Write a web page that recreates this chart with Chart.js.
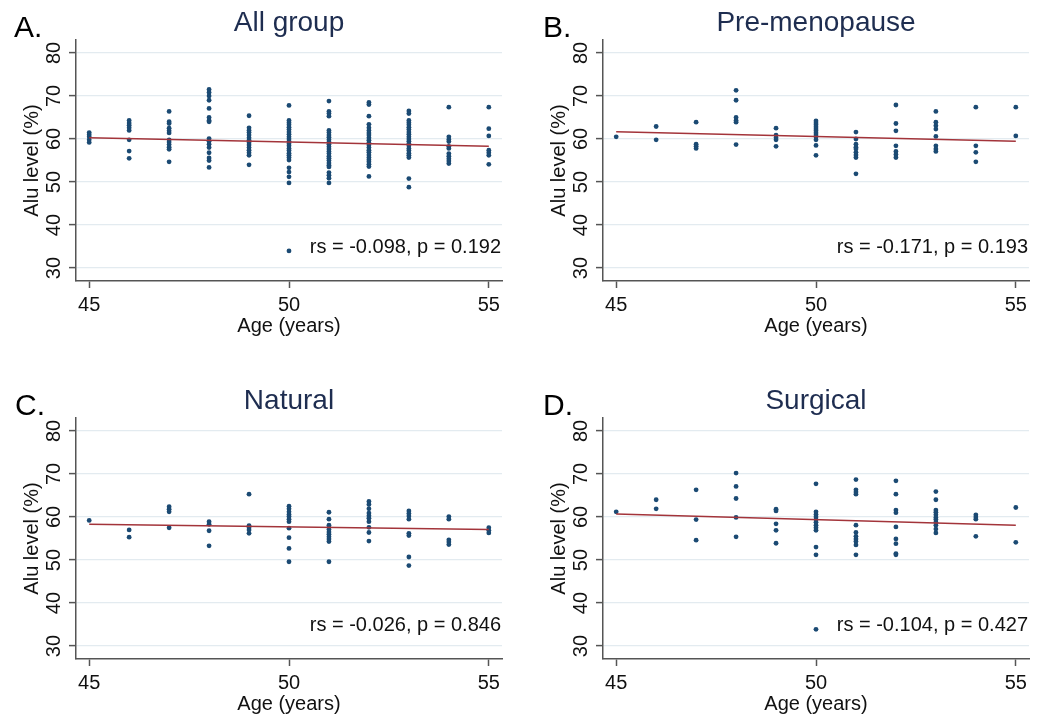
<!DOCTYPE html>
<html>
<head>
<meta charset="utf-8">
<script src="https://cdn.jsdelivr.net/npm/chart.js@4.4.0/dist/chart.umd.min.js"></script>
<style>
  body { margin: 0; background: #fff; }
  .panel { position: absolute; width: 516px; height: 340px; }
</style>
</head>
<body>
<div class="panel" style="left:0;top:0"><canvas id="chartA"></canvas></div>
<div class="panel" style="left:527px;top:0"><canvas id="chartB"></canvas></div>
<div class="panel" style="left:0;top:378px"><canvas id="chartC"></canvas></div>
<div class="panel" style="left:527px;top:378px"><canvas id="chartD"></canvas></div>
<script>
// ages on the x axis, one list of Alu values per age
const ages = [45, 46, 47, 48, 49, 50, 51, 52, 53, 54, 55];

const aluAllGroup = [
    [61.5, 61.0, 60.5, 59.8, 59.2],
    [64.3, 63.7, 63.2, 62.6, 62.0, 59.8, 57.2, 55.5],
    [66.4, 64.0, 63.6, 62.5, 61.9, 61.4, 59.8, 59.3, 58.7, 58.1, 57.6, 54.7],
    [71.5, 70.8, 70.0, 69.0, 67.1, 65.0, 64.3, 64.0, 60.1, 59.5, 58.8, 58.0, 56.8, 55.6, 55.0, 53.4],
    [65.4, 62.6, 62.0, 61.5, 60.9, 60.3, 59.7, 59.1, 58.6, 58.0, 57.4, 56.8, 56.2, 54.0],
    [67.8, 64.3, 63.8, 63.3, 62.7, 62.2, 61.6, 61.1, 60.5, 60.0, 59.5, 58.9, 58.4, 57.8, 57.3, 56.7, 56.2, 55.7, 55.1, 53.3, 52.3, 51.2, 49.8, 34.0],
    [68.8, 66.4, 65.9, 65.3, 62.0, 61.5, 60.9, 60.4, 59.8, 59.3, 58.8, 58.2, 57.7, 57.1, 56.6, 56.0, 55.5, 55.0, 54.4, 53.9, 53.5, 52.2, 51.6, 50.9, 49.8],
    [68.5, 68.0, 65.3, 63.4, 62.6, 62.0, 61.4, 60.9, 60.3, 59.7, 59.1, 58.6, 58.0, 57.4, 56.9, 56.3, 55.7, 55.2, 54.7, 54.1, 53.6, 51.3],
    [66.5, 65.9, 64.3, 63.8, 63.3, 62.7, 62.2, 61.6, 61.1, 60.5, 60.0, 59.5, 58.9, 58.4, 57.8, 57.3, 56.7, 56.2, 55.7, 50.8, 48.8],
    [67.4, 60.5, 59.9, 59.4, 58.3, 57.8, 56.6, 56.0, 55.4, 54.9, 54.3],
    [67.4, 62.4, 60.7, 57.4, 56.8, 56.2, 54.1]
];
const aluPreMenopause = [
    [60.5],
    [62.9, 59.8],
    [63.9, 58.8, 58.3, 57.8],
    [71.3, 69.0, 65.0, 64.3, 63.9, 58.7],
    [62.5, 60.9, 60.3, 59.8, 58.3],
    [64.2, 63.7, 63.3, 62.8, 62.3, 61.9, 61.4, 60.9, 60.5, 59.8, 58.5, 56.2],
    [61.6, 60.0, 58.8, 58.1, 57.7, 56.9, 56.3, 55.7, 51.9],
    [67.9, 63.6, 61.9, 58.4, 57.1, 56.4, 55.7],
    [66.4, 63.9, 63.1, 62.3, 60.6, 58.4, 57.7, 57.1],
    [67.4, 58.4, 56.9, 54.7],
    [67.4, 60.7]
];
const aluNatural = [
    [59.2],
    [57.0, 55.3],
    [62.4, 61.8, 61.2, 57.5],
    [58.9, 58.3, 56.8, 53.3],
    [65.3, 58.0, 57.5, 57.0, 56.2],
    [62.5, 61.9, 61.2, 60.6, 60.1, 59.5, 58.9, 57.4, 55.2, 52.7, 49.6],
    [61.1, 59.5, 58.1, 57.6, 57.1, 56.5, 56.0, 55.4, 54.9, 54.3, 49.6],
    [63.6, 62.9, 61.9, 60.9, 60.3, 59.7, 58.9, 57.6, 56.4, 54.4],
    [61.4, 60.8, 60.2, 59.5, 56.2, 55.7, 50.7, 48.7],
    [60.1, 59.5, 54.7, 54.2, 53.6],
    [57.5, 56.9, 56.3]
];
const aluSurgical = [
    [61.2],
    [64.0, 61.9],
    [66.3, 59.4, 54.6],
    [70.2, 67.1, 64.3, 59.9, 55.4],
    [61.8, 61.4, 58.4, 56.9, 53.9],
    [67.7, 61.2, 60.6, 60.0, 59.4, 58.8, 58.1, 57.5, 56.9, 53.0, 51.2, 33.9],
    [68.7, 66.3, 65.8, 65.3, 58.1, 56.4, 55.5, 54.9, 54.3, 53.5, 51.2],
    [68.4, 65.3, 61.6, 61.0, 57.7, 54.9, 53.8, 51.5, 51.2],
    [65.9, 64.0, 61.6, 61.1, 60.5, 59.9, 59.4, 58.8, 58.1, 57.2, 56.3],
    [60.5, 60.0, 59.5, 55.5],
    [62.2, 54.1]
];

// fitted line at age 45 and age 55
const fitAges = [45, 55];
const fitAllGroup = [60.3, 58.3];
const fitPreMenopause = [61.7, 59.5];
const fitNatural = [58.3, 57.1];
const fitSurgical = [60.7, 58.1];

const yTicks = [30, 40, 50, 60, 70, 80];
const xTicks = [45, 50, 55];

const FONT = '"Liberation Sans", Arial, sans-serif';
Chart.defaults.font.family = FONT;
Chart.defaults.color = '#111';

// panel letter, panel title and the rs / p note
const panelText = {
    id: 'panelText',
    afterDraw(chart, args, opts) {
        const { ctx, chartArea } = chart;
        ctx.save();
        ctx.textBaseline = 'alphabetic';
        ctx.fillStyle = '#000';
        ctx.font = '30px ' + FONT;
        ctx.textAlign = 'left';
        ctx.fillText(opts.letter, opts.letterX, 37);

        ctx.fillStyle = '#1e2d50';
        ctx.font = '28px ' + FONT;
        ctx.textAlign = 'center';
        ctx.fillText(opts.title, (chartArea.left + chartArea.right) / 2, 31);

        ctx.fillStyle = '#111';
        ctx.font = '20px ' + FONT;
        ctx.textAlign = 'right';
        ctx.fillText(opts.note, chartArea.right - 1, chart.scales.y.getPixelForValue(33.5));
        ctx.restore();
    }
};

function makePanel(id, letter, letterX, title, note, alu, fit) {
    const points = [];
    ages.forEach((age, i) => {
        alu[i].forEach(v => points.push({ x: age, y: v }));
    });

    new Chart(document.getElementById(id), {
        type: 'scatter',
        data: {
            datasets: [{
                data: fitAges.map((a, i) => ({ x: a, y: fit[i] })),
                showLine: true,
                borderColor: '#a3343a',
                borderWidth: 1.5,
                pointRadius: 0,
                order: 0
            }, {
                data: points,
                backgroundColor: '#1b4a73',
                borderWidth: 0,
                pointRadius: 2.4,
                order: 1
            }]
        },
        options: {
            responsive: true,
            maintainAspectRatio: false,
            animation: false,
            layout: { padding: { top: 40, right: 14, bottom: 0, left: 0 } },
            plugins: {
                legend: { display: false },
                tooltip: { enabled: false },
                panelText: { letter, letterX, title, note }
            },
            scales: {
                x: {
                    type: 'linear',
                    min: 44.67,
                    max: 55.33,
                    afterBuildTicks: s => { s.ticks = xTicks.map(v => ({ value: v })); },
                    ticks: { maxRotation: 0, padding: 5, font: { size: 20 } },
                    grid: { drawOnChartArea: false, tickColor: '#555', tickLength: 7, tickWidth: 1.5 },
                    border: { color: '#555', width: 1.5 },
                    title: { display: true, text: 'Age (years)', font: { size: 20 }, padding: { top: 0, bottom: 2 } },
                    afterFit: s => { s.height = 59; }
                },
                y: {
                    min: 27,
                    max: 83,
                    afterBuildTicks: s => { s.ticks = yTicks.map(v => ({ value: v })); },
                    ticks: { minRotation: 90, maxRotation: 90, crossAlign: 'center', padding: 3, font: { size: 20 } },
                    grid: { color: '#e3ebf0', lineWidth: 1.2, tickColor: '#555', tickLength: 7, tickWidth: 1.5 },
                    border: { color: '#555', width: 1.5 },
                    title: { display: true, text: 'Alu level (%)', font: { size: 20 }, padding: { top: 20, bottom: 0 } },
                    afterFit: s => { s.width = 76; }
                }
            }
        },
        plugins: [panelText]
    });
}

makePanel('chartA', 'A.', 14, 'All group', 'rs = -0.098, p = 0.192', aluAllGroup, fitAllGroup);
makePanel('chartB', 'B.', 16, 'Pre-menopause', 'rs = -0.171, p = 0.193', aluPreMenopause, fitPreMenopause);
makePanel('chartC', 'C.', 15, 'Natural', 'rs = -0.026, p = 0.846', aluNatural, fitNatural);
makePanel('chartD', 'D.', 16, 'Surgical', 'rs = -0.104, p = 0.427', aluSurgical, fitSurgical);
</script>
</body>
</html>
